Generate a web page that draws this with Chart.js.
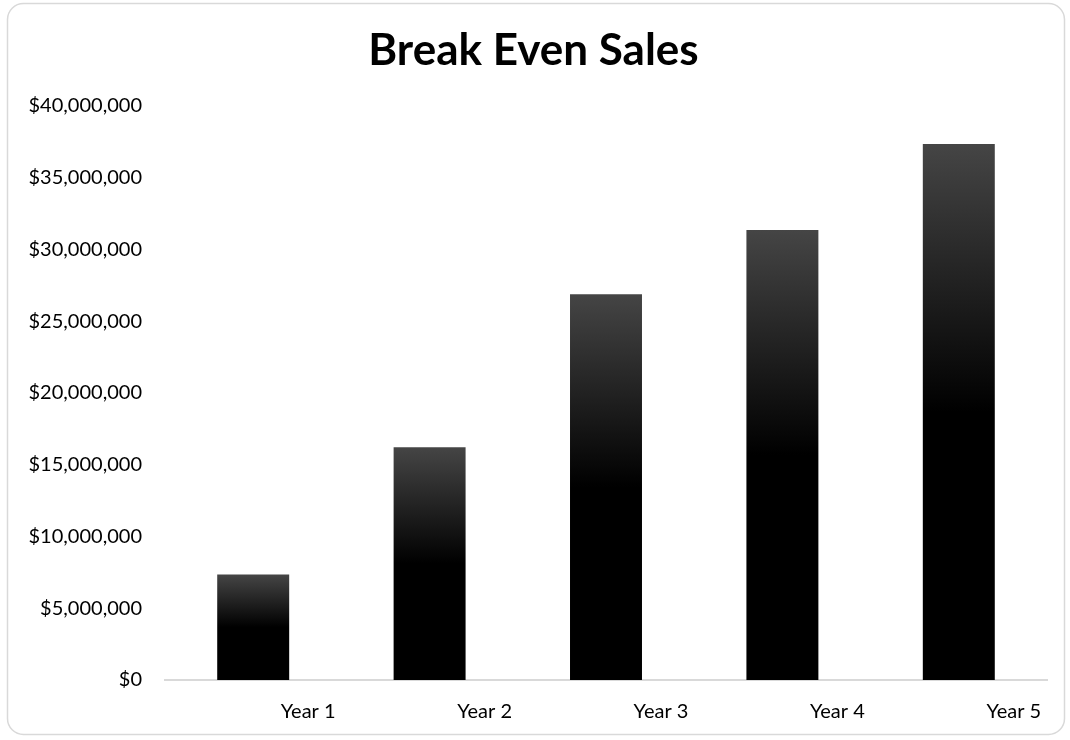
<!DOCTYPE html>
<html>
<head>
<meta charset="utf-8">
<script src="https://cdn.jsdelivr.net/npm/chart.js@4/dist/chart.umd.min.js"></script>
<style>
  html, body { margin: 0; padding: 0; background: #fff; }
  #wrap { position: relative; width: 1070px; height: 740px; }
</style>
</head>
<body>
<div id="wrap"><canvas id="breakEven" width="1070" height="740"></canvas></div>
<script>
var anos = ['Year 1', 'Year 2', 'Year 3', 'Year 4', 'Year 5'];
var vendasEquilibrio = [7350000, 16210000, 26880000, 31350000, 37340000];
var ticksY = [0, 5000000, 10000000, 15000000, 20000000, 25000000, 30000000, 35000000, 40000000];

var fonte = 'Lato, "Open Sans", sans-serif';

// moldura arredondada em volta do grafico
var moldura = {
  id: 'moldura',
  beforeDraw(chart) {
    var ctx = chart.ctx;
    ctx.save();
    ctx.strokeStyle = '#d9d9d9';
    ctx.lineWidth = 1.5;
    ctx.beginPath();
    ctx.roundRect(7.5, 3.5, 1057, 731, 16);
    ctx.stroke();
    ctx.restore();
  }
};

// cada barra: cinza no topo, preto a partir da metade
function gradienteBarra(context) {
  var chart = context.chart;
  if (!chart.chartArea || context.type !== 'data') return '#000';
  var y = chart.scales.y;
  var topo = y.getPixelForValue(context.raw);
  var base = y.getPixelForValue(0);
  var g = chart.ctx.createLinearGradient(0, topo, 0, base);
  g.addColorStop(0, '#454545');
  g.addColorStop(0.5, '#000000');
  g.addColorStop(1, '#000000');
  return g;
}

new Chart(document.getElementById('breakEven'), {
  type: 'bar',
  plugins: [moldura],
  data: {
    labels: anos,
    datasets: [{
      label: 'Break Even Sales',
      data: vendasEquilibrio,
      backgroundColor: gradienteBarra,
      borderWidth: 0,
      barPercentage: 1,
      categoryPercentage: 0.408
    }]
  },
  options: {
    responsive: false,
    animation: false,
    layout: { padding: { left: 20, right: 23, top: 24, bottom: 20 } },
    plugins: {
      legend: { display: false },
      tooltip: { enabled: false },
      title: {
        display: true,
        text: 'Break Even Sales',
        color: '#000',
        font: { family: fonte, size: 44, weight: 'bold' },
        padding: { top: 0, bottom: 29 }
      }
    },
    scales: {
      x: {
        afterFit(axis) {
          axis.height = 40;
        },
        grid: { display: false, drawTicks: false },
        border: { display: true, color: '#d9d9d9', width: 2 },
        ticks: {
          color: '#000',
          font: { family: fonte, size: 20 },
          padding: 20,
          labelOffset: 55,
          maxRotation: 0
        }
      },
      y: {
        min: 0,
        max: 40000000,
        afterBuildTicks(axis) {
          axis.ticks = ticksY.map(v => ({ value: v }));
        },
        afterFit(axis) {
          axis.width = 145;
        },
        grid: { display: false, drawTicks: false },
        border: { display: false },
        ticks: {
          color: '#000',
          font: { family: fonte, size: 20 },
          padding: 23,
          callback: v => '$' + Number(v).toLocaleString('en-US')
        }
      }
    }
  }
});
</script>
</body>
</html>
